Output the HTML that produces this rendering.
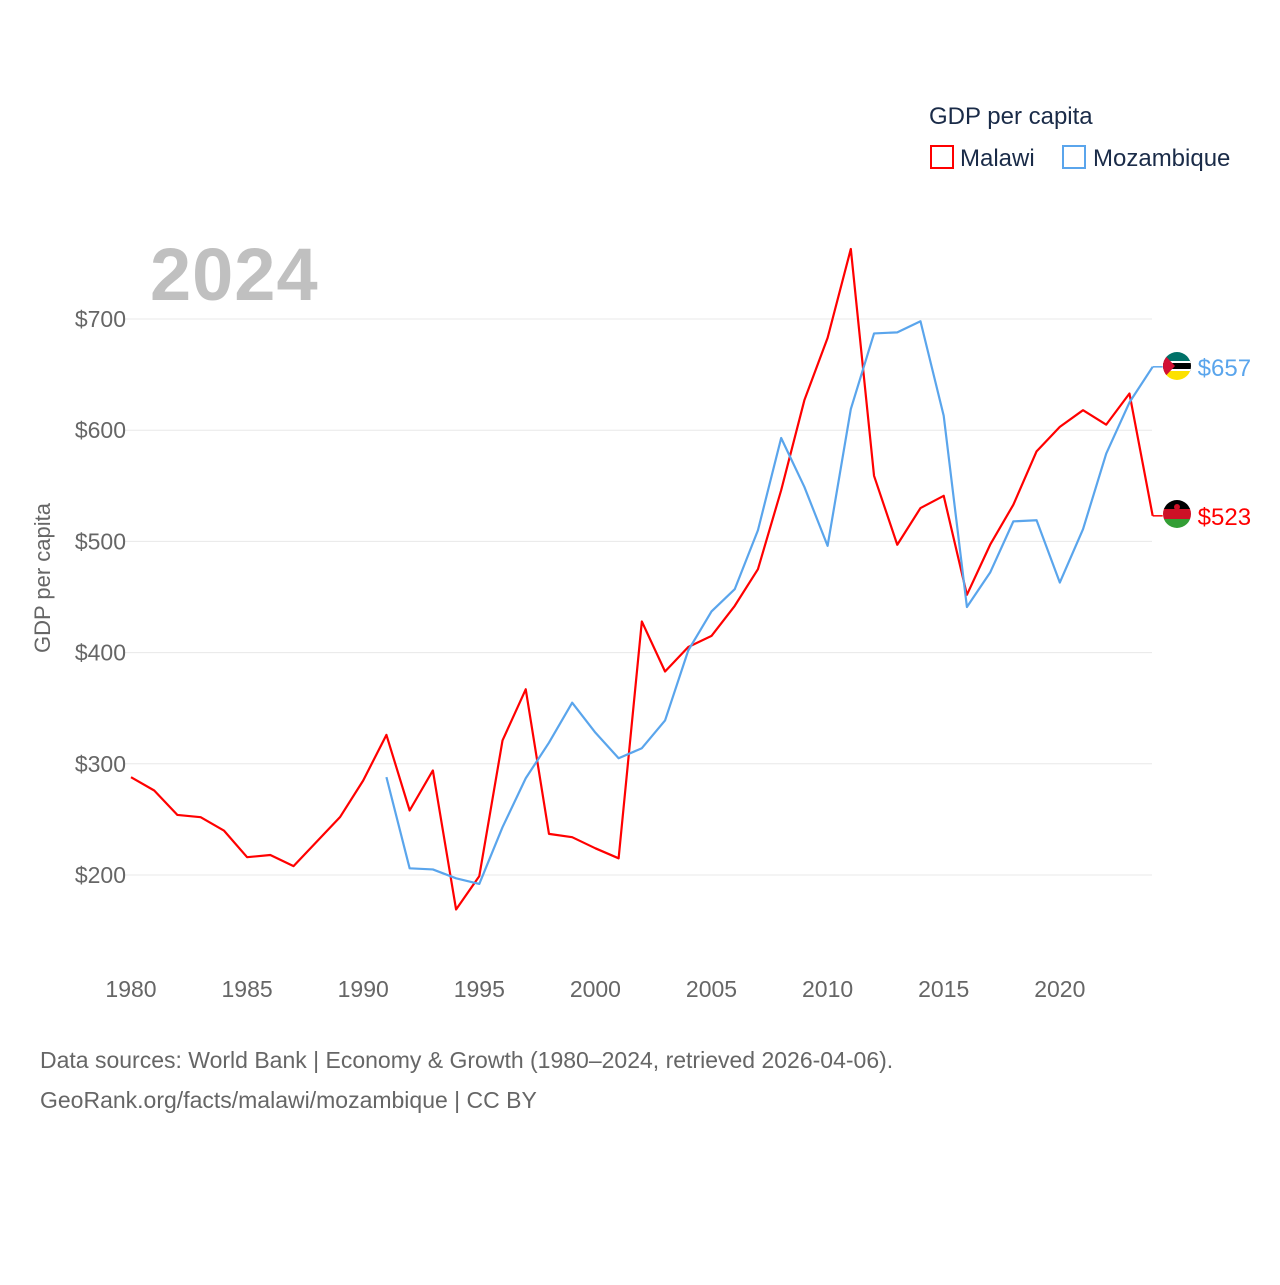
<!DOCTYPE html>
<html><head><meta charset="utf-8"><style>
body{margin:0;background:#fff;font-family:"Liberation Sans",sans-serif}
svg text{font-family:"Liberation Sans",sans-serif}
</style></head><body>
<svg width="1280" height="1280" viewBox="0 0 1280 1280">
<defs>
<clipPath id="cm"><circle cx="1177" cy="514" r="14"/></clipPath>
<clipPath id="cz"><circle cx="1177" cy="366" r="14"/></clipPath>
</defs>
<text x="929" y="124" font-size="24" fill="#1a2b48">GDP per capita</text>
<rect x="931" y="146" width="22" height="22" fill="none" stroke="#f00" stroke-width="2"/>
<text x="960" y="166" font-size="24" fill="#1a2b48">Malawi</text>
<rect x="1063" y="146" width="22" height="22" fill="none" stroke="#5aa5ec" stroke-width="2"/>
<text x="1093" y="166" font-size="24" fill="#1a2b48">Mozambique</text>
<text x="150" y="300" font-size="74" font-weight="bold" fill="#c0c0c0" letter-spacing="1">2024</text>
<text transform="translate(50,578) rotate(-90)" text-anchor="middle" font-size="22" fill="#666">GDP per capita</text>
<g id="grid"></g><g id="yt"></g><g id="xt"></g><g id="lines"></g><g id="ends"></g>
<g clip-path="url(#cm)">
<rect x="1160" y="498" width="34" height="11" fill="#000"/><rect x="1160" y="509" width="34" height="10" fill="#ce1126"/><rect x="1160" y="519" width="34" height="12" fill="#339e35"/>
<circle cx="1177" cy="507" r="3" fill="#ce1126"/></g>
<g clip-path="url(#cz)">
<rect x="1160" y="350" width="34" height="11" fill="#007168"/><rect x="1160" y="361" width="34" height="10" fill="#000"/><rect x="1160" y="361" width="34" height="2" fill="#fff"/><rect x="1160" y="369" width="34" height="2" fill="#fff"/><rect x="1160" y="371" width="34" height="12" fill="#fce100"/>
<polygon points="1160,350 1175,366 1160,382" fill="#d21034"/></g>
<text x="40" y="1068" font-size="23" fill="#666">Data sources: World Bank | Economy &amp; Growth (1980–2024, retrieved 2026-04-06).</text>
<text x="40" y="1108" font-size="23" fill="#666">GeoRank.org/facts/malawi/mozambique | CC BY</text>
</svg>
<script>
const years=[];for(let y=1980;y<=2024;y++)years.push(y);
const malawi=[288,276,254,252,240,216,218,208,230,252,285,326,258,294,169,199,321,367,237,234,224,215,428,383,405,415,442,475,546,627,683,763,559,497,530,541,452,497,533,581,603,618,605,633,523];
const mozYears=[];for(let y=1991;y<=2024;y++)mozYears.push(y);
const mozambique=[288,206,205,197,192,243,287,319,355,328,305,314,339,402,437,457,510,593,549,496,619,687,688,698,613,441,472,518,519,463,511,579,625,657];
const yTicks=[200,300,400,500,600,700];
const xTicks=[1980,1985,1990,1995,2000,2005,2010,2015,2020];
const X=y=>131+(y-1980)*23.22, Y=v=>875-(v-200)*1.112;
const NS="http://www.w3.org/2000/svg";
function mk(t,a,p){const e=document.createElementNS(NS,t);for(const k in a)e.setAttribute(k,a[k]);document.getElementById(p).appendChild(e);return e;}
yTicks.forEach(v=>{
 const l=mk('line',{x1:125,x2:1152,y1:Y(v),y2:Y(v),stroke:'#e8e8e8'},'grid');
 
 
 const t=mk('text',{x:126,y:Y(v)+8,'text-anchor':'end','font-size':23,fill:'#666'},'yt');t.textContent='$'+v;
 
 
});
xTicks.forEach(v=>{
 const t=mk('text',{x:X(v),y:997,'text-anchor':'middle','font-size':23,fill:'#666'},'xt');t.textContent=v;
 
 
});
function line(xs,vs,c,name){
 const p=mk('polyline',{points:xs.map((y,i)=>X(y)+','+Y(vs[i])).join(' '),fill:'none',stroke:c,'stroke-width':2.2,'stroke-linejoin':'round'},'lines');
 
 
 const v=vs[vs.length-1],ey=Y(v),ex=X(xs[xs.length-1]);
 const s=mk('line',{x1:ex,x2:ex+10,y1:ey,y2:ey,stroke:c,'stroke-width':1.5},'ends');
 
 
 const t=mk('text',{x:ex+45,y:ey+9,'font-size':24,fill:c},'ends');t.textContent='$'+v;
 
 
}
line(years,malawi,'#ff0000','malawi');
line(mozYears,mozambique,'#5aa5ec','mozambique');
</script>
</body></html>
